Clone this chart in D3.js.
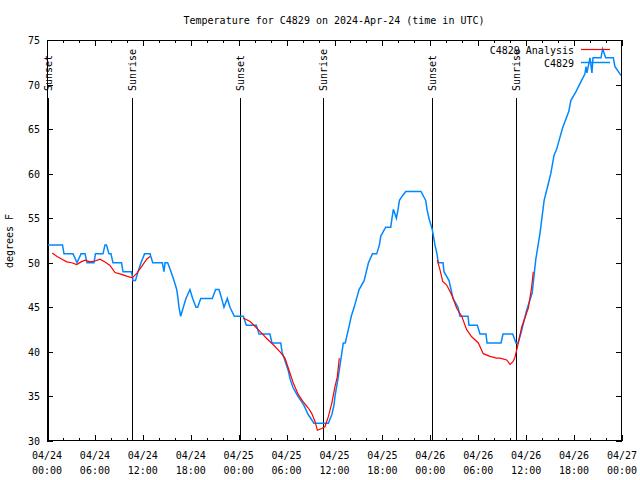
<!DOCTYPE html>
<html><head><meta charset="utf-8">
<script src="https://cdn.jsdelivr.net/npm/d3@7"></script>
<style>
body{margin:0;background:#fff}
svg text{font-family:"DejaVu Sans Mono",monospace;font-size:10px;fill:#000}
</style>
</head><body>
<svg id="chart" width="640" height="480"></svg>
<script>
// ---- data (hours since 2024-04-24 00:00 UTC) ----
const obsHours = [0.00,1.94,2.13,3.26,3.76,4.26,4.76,5.01,5.89,6.07,7.01,7.26,7.45,7.76,8.01,8.26,9.33,9.52,10.58,10.77,11.08,11.39,11.77,12.21,12.48,12.90,13.24,14.44,14.65,14.78,15.11,15.53,15.90,16.24,16.40,16.53,16.74,17.07,17.40,17.90,18.24,18.66,18.87,19.25,20.70,21.12,21.54,21.87,22.16,22.58,22.91,23.46,24.58,24.96,26.21,26.55,27.92,28.17,29.27,29.43,29.80,30.18,30.43,30.80,31.43,32.18,32.68,33.43,35.23,35.68,35.93,36.06,36.44,36.94,37.10,37.35,37.60,37.86,38.10,38.46,39.08,39.71,40.25,40.75,41.29,41.62,41.80,42.41,43.04,43.20,43.37,43.75,43.96,44.13,44.50,44.92,46.83,47.42,47.58,47.83,48.25,48.58,48.83,49.00,49.59,49.71,50.34,50.59,50.84,51.46,51.71,52.72,52.84,53.88,54.22,54.97,55.10,56.85,57.10,58.31,58.73,58.98,59.32,60.07,60.75,61.19,61.73,62.25,62.67,63.08,63.50,63.80,64.55,65.34,65.59,66.24,66.74,67.36,67.49,67.61,67.99,68.24,68.37,68.62,69.37,69.58,69.96,70.91,71.12,71.90];
const obsTemps = [52,52,51,51,50,51,51,50,50,51,51,52,52,51,51,50,50,49,49,48,48,49,50,51,51,51,50,50,49,50,50,49,48,47,46,45,44,45,46,47,46,45,45,46,46,47,47,46,45,46,45,44,44,43,43,42,42,41,41,40,39,38,37,36,35,34,33,32,32,33,34,35,37,40,41,41,42,43,44,45,47,48,50,51,51,52,53,54,54,55,56,55,56,57,57.5,58,58,57,56,55,53.7,52,51,50,50,49,48,47,46,45,44,44,43,43,42,42,41,41,42,42,41,41,42,44.7,46.6,50.3,53.3,57,58.5,60,62.1,62.7,65.1,67,68.2,69.2,70.1,71.2,72,71.3,73,71.3,73,73,73,74,73,73,72,71];

const analysisHours = [0.66,1.26,1.88,2.47,3.09,3.72,4.26,4.76,5.38,6.01,6.64,7.26,7.89,8.51,9.35,9.98,10.68,11.23,11.86,12.48,12.90, 18.0,
  24.58,25.43,26.67,27.51,28.34,29.18,29.80,30.43,30.84,31.47,32.09,32.72,33.14,33.56,33.85,34.40,34.81,35.22,35.65,36.06,36.35,36.60, 42.0,
  48.87,49.21,49.55,50.05,50.68,51.30,51.93,52.55,53.18,54.01,54.63,55.47,56.30,56.72,57.56,57.98,58.35,58.60,59.02,59.44,60.27,60.69,60.89];
const analysisTemps = [51.1,50.7,50.4,50.1,50.0,49.8,50.1,50.3,50.1,50.2,50.4,50.1,49.7,48.9,48.7,48.5,48.3,48.8,49.6,50.4,50.7, null,
  43.8,43.4,42.3,41.5,40.8,40.0,39.3,37.6,36.5,35.2,34.4,33.7,33.1,32.2,31.2,31.4,31.6,32.7,34.2,36.1,37.2,39.3, null,
  50.3,49.2,47.9,47.5,46.4,44.9,44.0,42.5,41.7,41.0,39.8,39.5,39.3,39.3,39.1,38.6,38.9,39.4,41.0,42.8,44.9,47.3,49.0];

const sunHours = [0.17,10.67,24.22,34.60,48.23,58.67];
const sunLabels = ["Sunset","Sunrise","Sunset","Sunrise","Sunset","Sunrise"];

const xTickHours = [0,6,12,18,24,30,36,42,48,54,60,66,72];
const xTickDates = ["04/24","04/24","04/24","04/24","04/25","04/25","04/25","04/25","04/26","04/26","04/26","04/26","04/27"];
const xTickTimes = ["00:00","06:00","12:00","18:00","00:00","06:00","12:00","18:00","00:00","06:00","12:00","18:00","00:00"];
const yTicks = [30,35,40,45,50,55,60,65,70,75];
const seriesNames = ["C4829 Analysis","C4829"];
const seriesColors = ["#ff0000","#0088ff"];

// ---- drawing ----
const svg = d3.select("#chart");
const L = 47, R = 622, T = 40, B = 441;
const x = d3.scaleLinear().domain([0,72]).range([L,R]);
const y = d3.scaleLinear().domain([30,75]).range([B,T]);

svg.append("text").attr("x",334).attr("y",24).attr("text-anchor","middle")
  .text("Temperature for C4829 on 2024-Apr-24 (time in UTC)");

// axes with inward ticks
const minorHours = d3.range(0,73,2);
const gB = svg.append("g").attr("transform",`translate(0,${B})`)
  .call(d3.axisBottom(x).tickValues(minorHours).tickSize(-3).tickFormat(""));
svg.append("g").attr("transform",`translate(0,${B})`)
  .call(d3.axisBottom(x).tickValues(xTickHours).tickSize(-6).tickFormat(""));
svg.append("g").attr("transform",`translate(0,${T})`)
  .call(d3.axisTop(x).tickValues(minorHours).tickSize(-3).tickFormat(""));
svg.append("g").attr("transform",`translate(0,${T})`)
  .call(d3.axisTop(x).tickValues(xTickHours).tickSize(-6).tickFormat(""));
svg.append("g").attr("transform",`translate(${L},0)`)
  .call(d3.axisLeft(y).tickValues(yTicks).tickSize(-6).tickFormat(""));
svg.append("g").attr("transform",`translate(${R},0)`)
  .call(d3.axisRight(y).tickValues(yTicks).tickSize(-6).tickFormat(""));
svg.selectAll(".domain").remove();
svg.selectAll(".tick line").attr("stroke","#000").attr("shape-rendering","crispEdges");

// y labels
svg.append("g").selectAll("text").data(yTicks).join("text")
  .attr("x",40).attr("y",d=>y(d)+4).attr("text-anchor","end").text(d=>d);
// x labels
const xl = svg.append("g").selectAll("text").data(xTickHours).join("text")
  .attr("text-anchor","middle");
xl.append("tspan").attr("x",d=>x(d)).attr("y",459).text((d,i)=>xTickDates[i]);
xl.append("tspan").attr("x",d=>x(d)).attr("y",474).text((d,i)=>xTickTimes[i]);

svg.append("text").attr("transform","translate(13,241) rotate(-90)")
  .attr("text-anchor","middle").text("degrees F");

// sunrise / sunset
const sg = svg.append("g");
sg.selectAll("line").data(sunHours).join("line")
  .attr("x1",d=>Math.round(x(d))+0.5).attr("x2",d=>Math.round(x(d))+0.5)
  .attr("y1",98).attr("y2",B).attr("stroke","#000").attr("stroke-width",1);
sg.selectAll("text").data(sunHours).join("text")
  .attr("transform",d=>`translate(${Math.round(x(d))+4},91) rotate(-90)`)
  .attr("text-anchor","start").text((d,i)=>sunLabels[i]);

// series
const clip = svg.append("clipPath").attr("id","pc").append("rect")
  .attr("x",L).attr("y",T).attr("width",R-L).attr("height",B-T);
const line = d3.line().defined(d=>d[1]!==null).x(d=>x(d[0])).y(d=>y(d[1]));
svg.append("path").datum(obsHours.map((h,i)=>[h,obsTemps[i]]))
  .attr("d",line).attr("fill","none").attr("stroke",seriesColors[1]).attr("stroke-width",1.5)
  .attr("clip-path","url(#pc)");
svg.append("path").datum(analysisHours.map((h,i)=>[h,analysisTemps[i]]))
  .attr("d",line).attr("fill","none").attr("stroke",seriesColors[0]).attr("stroke-width",1.2)
  .attr("clip-path","url(#pc)");

// border
svg.append("rect").attr("x",L+0.5).attr("y",T+0.5).attr("width",R-L-1).attr("height",B-T-1)
  .attr("fill","none").attr("stroke","#000").attr("shape-rendering","crispEdges");

// legend
const lg = svg.append("g");
seriesNames.forEach((n,i)=>{
  const ly = 50 + i*13;
  lg.append("text").attr("x",574).attr("y",ly+4).attr("text-anchor","end").text(n);
  lg.append("line").attr("x1",581).attr("x2",610).attr("y1",ly-0.5).attr("y2",ly-0.5)
    .attr("stroke",seriesColors[i]).attr("stroke-width",i===0?1.2:1.5);
});
</script>
</body></html>
